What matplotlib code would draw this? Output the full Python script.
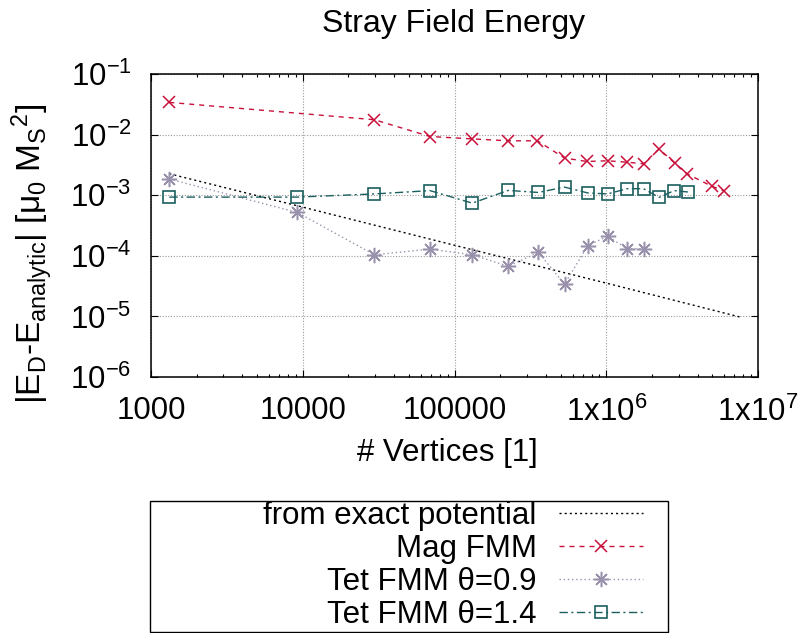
import numpy as np
import matplotlib
matplotlib.use('Agg')
import matplotlib.pyplot as plt
from matplotlib.ticker import LogLocator, NullFormatter
from matplotlib.patches import Rectangle

plt.rcParams['font.family'] = ['Liberation Sans', 'DejaVu Sans']
plt.rcParams['mathtext.fontset'] = 'custom'
plt.rcParams['mathtext.rm'] = 'Liberation Sans'
plt.rcParams['mathtext.it'] = 'Liberation Sans'
plt.rcParams['mathtext.bf'] = 'Liberation Sans:bold'
plt.rcParams['font.size'] = 22.5

# data
exact_n = [1320, 9200, 131000, 1020000, 7830000]
exact_err = [0.00226, 0.00067, 0.000126, 0.000035, 0.0000096]

mag_n = [1320, 29650, 69000, 131000, 226000, 352000, 531000, 745000, 1020000,
         1370000, 1760000, 2230000, 2820000, 3400000, 4970000, 5930000]
mag_err = [0.034, 0.0176, 0.0093, 0.0085, 0.0079, 0.0079, 0.0041, 0.0036, 0.0037,
           0.0035, 0.0033, 0.0058, 0.0034, 0.00226, 0.0014, 0.00119]

tet09_n = [1320, 9200, 29650, 69000, 131000, 226000, 357000, 531000, 755000,
           1020000, 1370000, 1760000]
tet09_err = [0.00185, 0.00052, 0.000104, 0.000129, 0.000104, 0.000067, 0.000114,
             0.000034, 0.000147, 0.00021, 0.000131, 0.000131]

tet14_n = [1320, 9200, 29650, 69000, 131000, 226000, 357000, 531000, 755000,
           1020000, 1370000, 1760000, 2230000, 2800000, 3450000]
tet14_err = [0.00093, 0.00093, 0.00105, 0.00119, 0.00074, 0.0012, 0.00111, 0.00136,
             0.00109, 0.00105, 0.00128, 0.00128, 0.00092, 0.00119, 0.00113]

xticks = [1e3, 1e4, 1e5, 1e6, 1e7]
xtick_labels = ['1000', '10000', '100000', r'1x10$^6$', r'1x10$^7$']
yticks = [1e-6, 1e-5, 1e-4, 1e-3, 1e-2, 1e-1]
ytick_labels = [r'10$^{-6}$', r'10$^{-5}$', r'10$^{-4}$', r'10$^{-3}$',
                r'10$^{-2}$', r'10$^{-1}$']

W, H = 811, 633
fig = plt.figure(figsize=(W / 100, H / 100), dpi=100)
ax = fig.add_axes([151 / W, 1 - 377 / H, 607 / W, 303 / H])

ax.plot(exact_n, exact_err, color='black', lw=1, linestyle=(0, (1.5, 2.2)),
        label='from exact potential')
ax.plot(mag_n, mag_err, color='#c8103a', lw=1, linestyle=(0, (3.6, 3.6)),
        marker='x', markersize=9, mew=1.1, label='Mag FMM')
ax.plot(tet09_n, tet09_err, color='#9a92ac', lw=1, linestyle=(0, (1, 2)),
        marker=(8, 2, 0), markersize=11, mew=1.1, label='Tet FMM θ=0.9')
ax.plot(tet14_n, tet14_err, color='#1b5f5f', lw=1, linestyle=(0, (6, 2.5, 1.5, 2.5)),
        marker='s', markersize=9, mew=1.2, markerfacecolor='none',
        label='Tet FMM θ=1.4')

ax.set_xscale('log')
ax.set_yscale('log')
ax.set_xlim(1e3, 1e7)
ax.set_ylim(1e-6, 1e-1)
ax.set_xticks(xticks, xtick_labels)
ax.set_yticks(yticks, ytick_labels)
ax.xaxis.set_minor_locator(LogLocator(base=10, subs=np.arange(2, 10)))
ax.yaxis.set_minor_locator(LogLocator(base=10, subs=[2, 5]))
ax.xaxis.set_minor_formatter(NullFormatter())
ax.yaxis.set_minor_formatter(NullFormatter())
ax.tick_params(which='both', direction='in', top=True, right=True, width=0.8)
ax.tick_params(which='major', length=5)
ax.tick_params(which='minor', length=2.5)
ax.tick_params(axis='x', which='major', pad=14)
ax.tick_params(axis='y', which='major', pad=14)
for s in ax.spines.values():
    s.set_linewidth(1.1)
ax.grid(True, which='major', color='#9a9a9a', linestyle=(0, (1, 1.5)), linewidth=0.8)

fig.text(454 / W, 1 - 31.7 / H, 'Stray Field Energy', ha='center', va='baseline',
         fontsize=23)
fig.text(447 / W, 1 - 461 / H, '# Vertices [1]', ha='center', va='baseline')
fig.text(33 / W, 1 - 254 / H,
         r'|E$_\mathrm{D}$-E$_\mathrm{analytic}$| [μ$_0$ M$_\mathrm{S}$$^2$]',
         rotation=90, ha='center', va='center', fontsize=24)

handles, labels = ax.get_legend_handles_labels()
fig.legend(handles, labels, loc='upper right', bbox_to_anchor=(643 / W, 1 - 501 / H),
           markerfirst=False, frameon=False, borderpad=0, borderaxespad=0,
           handlelength=2.7, handletextpad=0.7, labelspacing=0.1, numpoints=1)
fig.add_artist(Rectangle((150 / W, 1 - 632 / H), 518 / W, 131 / H,
                         transform=fig.transFigure, fill=False,
                         edgecolor='black', lw=1))

fig.savefig('out.png', dpi=100)
